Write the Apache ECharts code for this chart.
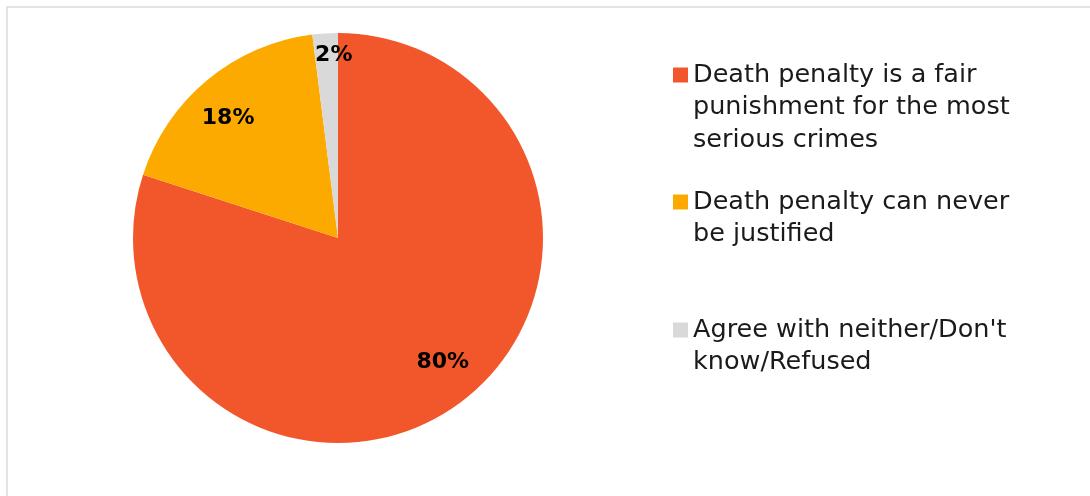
<!DOCTYPE html>
<html>
<head>
<meta charset="utf-8">
<style>
  html, body { margin: 0; padding: 0; background: #ffffff; }
  #chart { width: 1090px; height: 496px; }
</style>
<script src="https://cdn.jsdelivr.net/npm/echarts@6/dist/echarts.min.js"></script>
</head>
<body>
<div id="chart"></div>
<script>
// Survey answers on the death penalty (share of respondents, %)
const categories = [
  'Death penalty is a fair\npunishment for the most\nserious crimes',
  'Death penalty can never\nbe justified',
  "Agree with neither/Don't\nknow/Refused"
];
const shares = [80, 18, 2];
const colors = ['#F2572B', '#FDAA00', '#D9D9D9'];

const FONT = '"DejaVu Sans", sans-serif';
const CENTER = [338, 238];
const RADIUS = 205;
const LEGEND_LINE = 32.5;
// vertical centre of each legend swatch (first text line)
const legendRows = [75, 202, 330];
// small nudges of the percentage labels inside their slices
const labelNudges = [[9, -8], [-6, 6], [6, -20]];

const chart = echarts.init(document.getElementById('chart'), null, { renderer: 'canvas' });

const sliceData = categories.map((name, i) => ({
  name: name,
  value: shares[i],
  itemStyle: { color: colors[i] }
}));

// The legend text is padded with leading blank lines so the swatch sits on the first line
function padded(name) {
  const n = name.split('\n').length;
  return '\n'.repeat(n - 1) + name;
}

const legends = categories.map((name, i) => {
  const n = name.split('\n').length;
  const blockH = (2 * n - 1) * LEGEND_LINE;
  return {
    data: [name],
    left: 673,
    top: legendRows[i] - blockH / 2,
    padding: 0,
    orient: 'vertical',
    icon: 'rect',
    itemWidth: 15,
    itemHeight: 15,
    selectedMode: false,
    formatter: padded,
    textStyle: {
      fontFamily: FONT,
      fontSize: 25.5,
      lineHeight: LEGEND_LINE,
      color: '#1a1a1a'
    }
  };
});

const option = {
  backgroundColor: '#ffffff',
  animation: false,
  color: colors,
  graphic: [{
    type: 'rect',
    shape: { x: 7, y: 7, width: 1200, height: 700 },
    style: { fill: 'none', stroke: '#dcdcdc', lineWidth: 1.5 },
    silent: true,
    z: -10
  }],
  legend: legends,
  series: [
    {
      type: 'pie',
      center: CENTER,
      radius: RADIUS,
      startAngle: 90,
      clockwise: true,
      silent: true,
      label: { show: false },
      labelLine: { show: false },
      itemStyle: { borderWidth: 0 },
      data: sliceData
    },
    {
      // transparent ring used only to place the value labels
      type: 'pie',
      center: CENTER,
      radius: [0, 320],
      startAngle: 90,
      clockwise: true,
      silent: true,
      legendHoverLink: false,
      itemStyle: { color: 'rgba(0,0,0,0)' },
      labelLine: { show: false },
      label: {
        show: true,
        position: 'inside',
        formatter: p => p.value + '%',
        fontFamily: FONT,
        fontWeight: 'bold',
        fontSize: 22,
        color: '#000000'
      },
      data: categories.map((name, i) => ({
        name: name,
        value: shares[i],
        label: { offset: labelNudges[i] }
      }))
    }
  ]
};

chart.setOption(option);
</script>
</body>
</html>
